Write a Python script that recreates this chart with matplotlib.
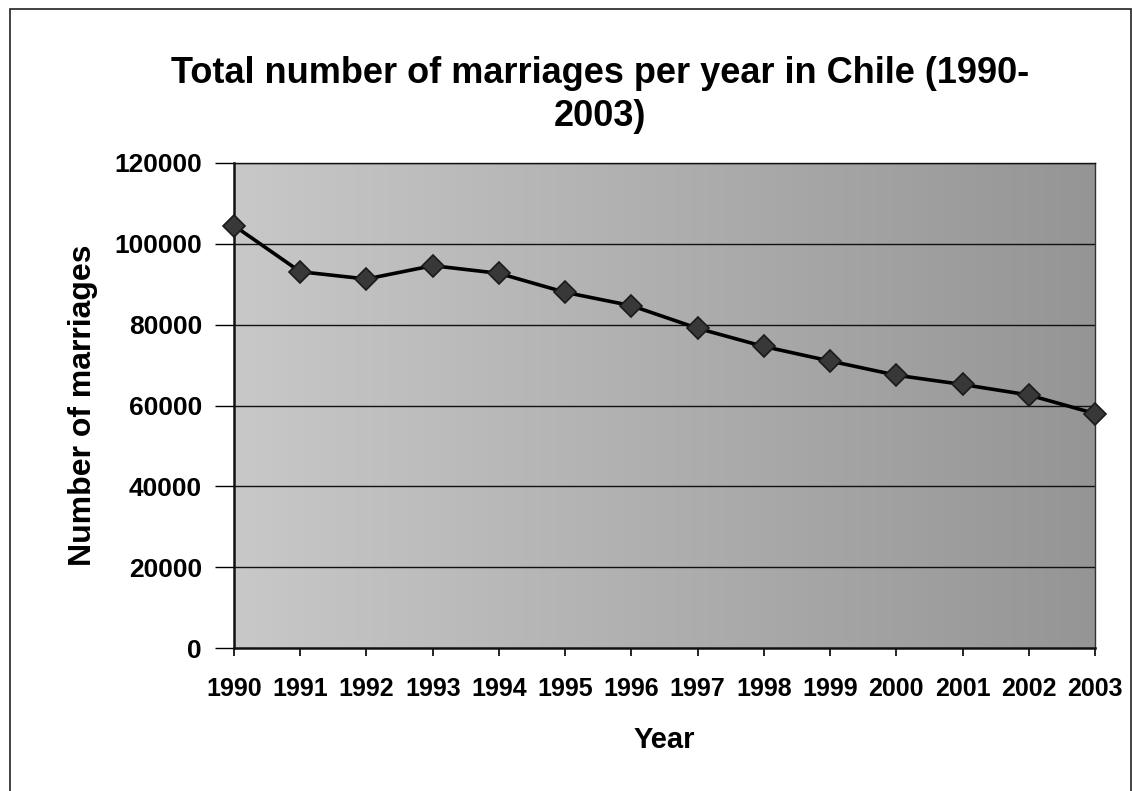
import numpy as np
import matplotlib.pyplot as plt
from matplotlib.colors import LinearSegmentedColormap
from matplotlib.patches import Rectangle

# yearly totals
years = [1990, 1991, 1992, 1993, 1994, 1995, 1996,
         1997, 1998, 1999, 2000, 2001, 2002, 2003]
marriages = [104500, 93100, 91300, 94600, 92700, 88000, 84700,
             79100, 74600, 71000, 67500, 65200, 62600, 58000]
y_ticks = [0, 20000, 40000, 60000, 80000, 100000, 120000]

plt.rcParams['font.family'] = ['Liberation Sans', 'DejaVu Sans']
plt.rcParams['font.weight'] = 'bold'

W, H = 1132, 791
fig = plt.figure(figsize=(W / 100, H / 100), dpi=100)
fig.patch.set_facecolor('white')

# outer chart frame
fig.patches.append(Rectangle((10 / W, -0.02), (W - 11) / W, 1 - 9 / H + 0.02,
                             transform=fig.transFigure, fill=False,
                             edgecolor='#222222', linewidth=1.2))

left, right, top, bottom = 234, 1095, 163, 648
ax = fig.add_axes([left / W, 1 - bottom / H, (right - left) / W, (bottom - top) / H])

# grey gradient behind the plot, light on the left, dark on the right
grad = np.linspace(0, 1, 256).reshape(1, -1)
cmap = LinearSegmentedColormap.from_list('bg', ['#c8c8c8', '#959595'])
ax.imshow(grad, cmap=cmap, extent=[0, 1, 0, 1], transform=ax.transAxes,
          aspect='auto', zorder=0)

for v in y_ticks[1:]:
    ax.axhline(v, color='#111111', linewidth=1.0, zorder=1)

ax.plot(years, marriages, color='black', linewidth=2.6, zorder=3,
        marker='D', markersize=11, markerfacecolor='#383838',
        markeredgecolor='#1a1a1a', markeredgewidth=1.2, clip_on=False)

ax.set_xlim(years[0], years[-1])
ax.set_ylim(0, 120000)
ax.set_xticks(years)
ax.set_xticklabels([str(y) for y in years], fontsize=18, fontweight='bold')
ax.set_yticks(y_ticks)
ax.set_yticklabels([str(v) for v in y_ticks], fontsize=19, fontweight='bold')
ax.tick_params(axis='x', direction='out', length=6, width=1.2, pad=15)
ax.tick_params(axis='y', direction='out', length=14, width=1.0, pad=9)

for s in ['left', 'bottom']:
    ax.spines[s].set_linewidth(1.8)
    ax.spines[s].set_color('#111111')
ax.spines['right'].set_linewidth(1.0)
ax.spines['right'].set_color('#333333')
ax.spines['top'].set_linewidth(1.0)
ax.spines['top'].set_color('#111111')

ax.set_xlabel('Year', fontsize=21, fontweight='bold', labelpad=18)
ax.set_ylabel('Number of marriages', fontsize=23, fontweight='bold', labelpad=12)

fig.text(600 / W, 1 - 95 / H,
         'Total number of marriages per year in Chile (1990-\n2003)',
         ha='center', va='center', fontsize=26, fontweight='bold',
         linespacing=1.3)

fig.savefig('out.png', dpi=100)
